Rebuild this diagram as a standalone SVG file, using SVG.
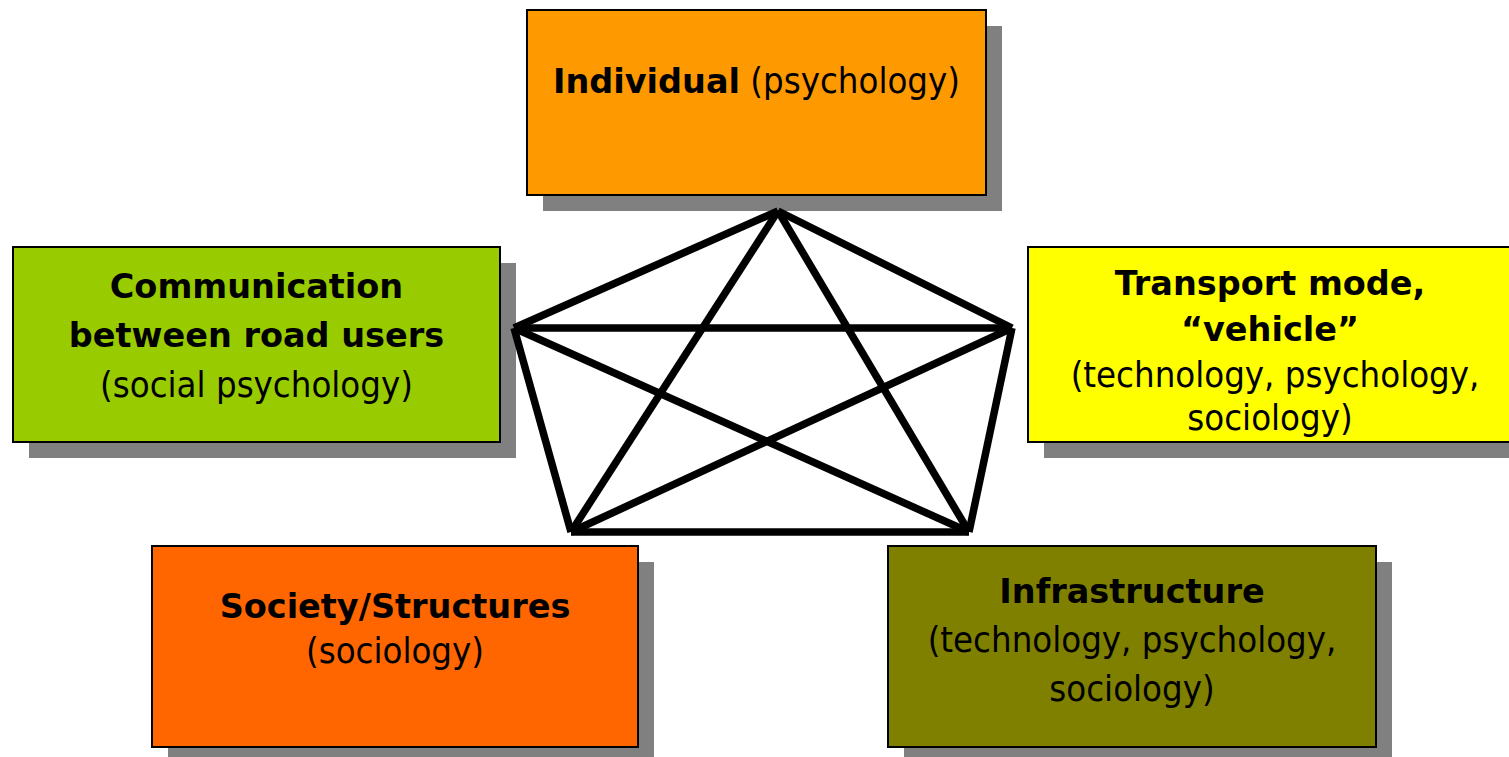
<svg xmlns="http://www.w3.org/2000/svg" width="1509" height="757" viewBox="0 0 1509 757">
<style>
.shadow{fill:#808080}
.box{stroke:#000;stroke-width:2}
text{fill:#000;text-anchor:middle}
.b{font-family:"DejaVu Sans",Verdana,sans-serif;font-weight:bold;font-size:33.5px}
.r{font-family:"DejaVu Sans Condensed","DejaVu Sans",Verdana,sans-serif;font-stretch:condensed;font-weight:normal;font-size:36.2px}
.conn line{stroke:#000;stroke-width:7.5;stroke-linecap:butt}
</style>
<rect width="1509" height="757" fill="#fff"/>
<g id="individual">
<rect class="shadow" x="543" y="26" width="459" height="185"/>
<rect class="box" x="527" y="10" width="459" height="185" fill="#FF9900"/>
<text x="756.5" y="93"><tspan class="b">Individual</tspan><tspan class="r"> (psychology)</tspan></text>
</g>
<g id="communication">
<rect class="shadow" x="29" y="263" width="487" height="195"/>
<rect class="box" x="13" y="247" width="487" height="195" fill="#99CC00"/>
<text class="b" x="256.5" y="298">Communication</text>
<text class="b" x="256.5" y="347">between road users</text>
<text class="r" x="256.5" y="397">(social psychology)</text>
</g>
<g id="transport">
<rect class="shadow" x="1044" y="263" width="484" height="195"/>
<rect class="box" x="1028" y="247" width="484" height="195" fill="#FFFF00"/>
<text class="b" x="1270" y="295">Transport mode,</text>
<text class="b" x="1270" y="341">“vehicle”</text>
<text class="r" x="1275" y="387">(technology, psychology,</text>
<text class="r" x="1270" y="430">sociology)</text>
</g>
<g id="society">
<rect class="shadow" x="168" y="562" width="486" height="201"/>
<rect class="box" x="152" y="546" width="486" height="201" fill="#FF6600"/>
<text class="b" x="395" y="618">Society/Structures</text>
<text class="r" x="395" y="663">(sociology)</text>
</g>
<g id="infrastructure">
<rect class="shadow" x="904" y="562" width="488" height="201"/>
<rect class="box" x="888" y="546" width="488" height="201" fill="#808000"/>
<text class="b" x="1132" y="603">Infrastructure</text>
<text class="r" x="1132" y="652">(technology, psychology,</text>
<text class="r" x="1132" y="701">sociology)</text>
</g>
<g id="connectors" class="conn">
<line x1="778" y1="211" x2="514" y2="328"/>
<line x1="778" y1="211" x2="1012" y2="328"/>
<line x1="514" y1="328" x2="1012" y2="328"/>
<line x1="514" y1="328" x2="571" y2="532"/>
<line x1="1012" y1="328" x2="969" y2="532"/>
<line x1="571" y1="532" x2="969" y2="532"/>
<line x1="778" y1="211" x2="571" y2="532"/>
<line x1="778" y1="211" x2="969" y2="532"/>
<line x1="514" y1="328" x2="969" y2="532"/>
<line x1="1012" y1="328" x2="571" y2="532"/>
</g>
</svg>
